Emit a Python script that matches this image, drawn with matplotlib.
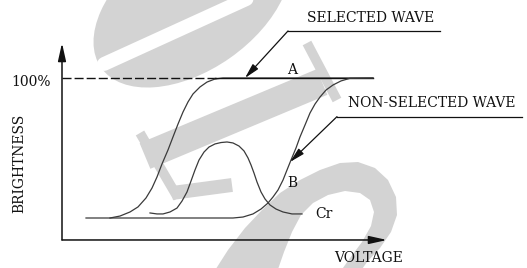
import matplotlib
matplotlib.use("Agg")
import matplotlib.pyplot as plt
from matplotlib.patches import Ellipse, Polygon

# ---- data (voltage in arbitrary units, brightness in %) ----
selected_v = [48, 58, 68, 76, 84, 90, 95, 100, 106, 111, 116, 121, 126, 131, 138, 145, 153, 161, 311]
selected_b = [0, 1.4, 4.3, 7.9, 14.3, 21.4, 29.3, 38.6, 48.6, 57.9, 67.1, 75.7, 82.9, 88.6, 93.6, 97.1, 99.3, 100, 100]

nonsel_v = [24, 171, 181, 191, 199, 206, 211, 216, 221, 225, 229, 234, 238, 243, 248, 253, 258, 264, 271, 279, 288, 311]
nonsel_b = [0, 0, 0.7, 2.9, 6.4, 10.7, 15, 20, 27.1, 34.3, 41.4, 50, 57.9, 66.4, 75, 81.4, 86.4, 91.4, 95, 97.9, 99.8, 100]

cr_v = [88, 95, 101, 108, 115, 120, 125, 129, 133, 137, 142, 147, 153, 159, 165,
        171, 177, 182, 186, 189, 192, 195, 199, 203, 208, 214, 221, 230, 240]
cr_b = [3.6, 2.9, 2.9, 4.3, 7.1, 12.1, 18.6, 26.4, 34.3, 41.4, 47.1, 50.7, 52.9, 53.9, 54.3,
        53.6, 51.4, 47.9, 42.9, 37.9, 32.1, 25.7, 18.6, 13.6, 9.3, 6.4, 4.3, 2.9, 2.9]

full_level = 100
dash_end_v = 155
point_labels = ["A", "B", "Cr"]

FONT = "DejaVu Serif"
INK = "#111111"
CURVE = "#3a3a3a"
WM = "#d3d3d3"

fig = plt.figure(figsize=(5.27, 2.68), dpi=100)

# ---- background watermark (pixel coordinates, decoration only) ----
bg = fig.add_axes([0, 0, 1, 1])
bg.set_xlim(0, 527)
bg.set_ylim(268, 0)
bg.axis("off")
bg.add_patch(Ellipse((192, 4), 222, 132, angle=-35, color=WM, lw=0, zorder=0))
bg.plot([104, 275], [64, -14], color="white", lw=10, solid_capstyle="round", zorder=1)
bg.plot([145, 322], [156, 82], color=WM, lw=20, solid_capstyle="butt", zorder=1)
bg.plot([307, 337], [43, 100], color=WM, lw=7, solid_capstyle="butt", zorder=1)
bg.plot([140, 178], [133, 198], color=WM, lw=7, solid_capstyle="butt", zorder=1)
bg.plot([172, 232], [193, 185], color=WM, lw=10, solid_capstyle="butt", zorder=1)
loop_outer = [(212, 275), (228, 250), (245, 228), (262, 210), (280, 193), (300, 180),
              (320, 170), (340, 163), (358, 162), (375, 168), (388, 180), (396, 197),
              (397, 215), (391, 232), (380, 248), (367, 262), (358, 275)]
loop_inner = [(338, 275), (350, 258), (362, 242), (371, 226), (374, 212), (370, 200),
              (360, 193), (345, 191), (328, 195), (313, 203), (301, 215), (292, 232),
              (284, 252), (276, 275)]
bg.add_patch(Polygon(loop_outer + loop_inner, closed=True, color=WM, lw=0, zorder=1))

# ---- main diagram ----
ax = fig.add_axes([0, 0, 1, 1])
ax.patch.set_alpha(0)
ax.set_xlim(-62, 465)
ax.set_ylim(-35.714, 155.714)
ax.axis("off")

x_axis_b = -15.7
axis_arrow = dict(arrowstyle="-|>,head_length=0.9,head_width=0.2",
                  mutation_scale=12, lw=1.1, color=INK, shrinkA=0, shrinkB=0)
ax.annotate("", xy=(0, 125), xytext=(0, x_axis_b), arrowprops=axis_arrow)
ax.annotate("", xy=(325, x_axis_b), xytext=(0, x_axis_b), arrowprops=axis_arrow)

# 100 % reference (dashed up to where the selected wave saturates)
ax.plot([0, dash_end_v], [full_level, full_level], color=INK, lw=1.0,
        linestyle=(0, (6.5, 2.2)))

# curves
ax.plot(selected_v, selected_b, color=CURVE, lw=0.9, solid_joinstyle="round")
ax.plot([selected_v[-3], selected_v[-1]], [full_level, full_level], color=INK, lw=1.0)
ax.plot(nonsel_v, nonsel_b, color=CURVE, lw=0.9, solid_joinstyle="round")
ax.plot(cr_v, cr_b, color=CURVE, lw=0.9, solid_joinstyle="round")

# callouts
arrow_kw = dict(arrowstyle="-|>,head_length=0.9,head_width=0.22",
                mutation_scale=10, lw=0.9, color=INK, shrinkA=0, shrinkB=0)
ax.plot([226, 378], [133.6, 133.6], color=INK, lw=0.9)
ax.annotate("", xy=(183, full_level), xytext=(226, 133.6), arrowprops=arrow_kw)
ax.plot([275, 460], [72.4, 72.4], color=INK, lw=0.9)
ax.annotate("", xy=(228, 40), xytext=(275, 72.4), arrowprops=arrow_kw)

tk = dict(family=FONT, fontsize=10, color=INK, ha="center", va="center")
ax.text(309, 142.9, "SELECTED WAVE", **tk)
ax.text(370, 82.1, "NON-SELECTED WAVE", **tk)
ax.text(230, 105.7, point_labels[0], **tk)
ax.text(230, 25, point_labels[1], **tk)
ax.text(262, 2.9, point_labels[2], **tk)
ax.text(-31, 97.1, "100%", **tk)
ax.text(-43, 39.3, "BRIGHTNESS", rotation=90, **tk)
ax.text(307, -28.6, "VOLTAGE", **tk)

fig.savefig("out.png", dpi=100)
